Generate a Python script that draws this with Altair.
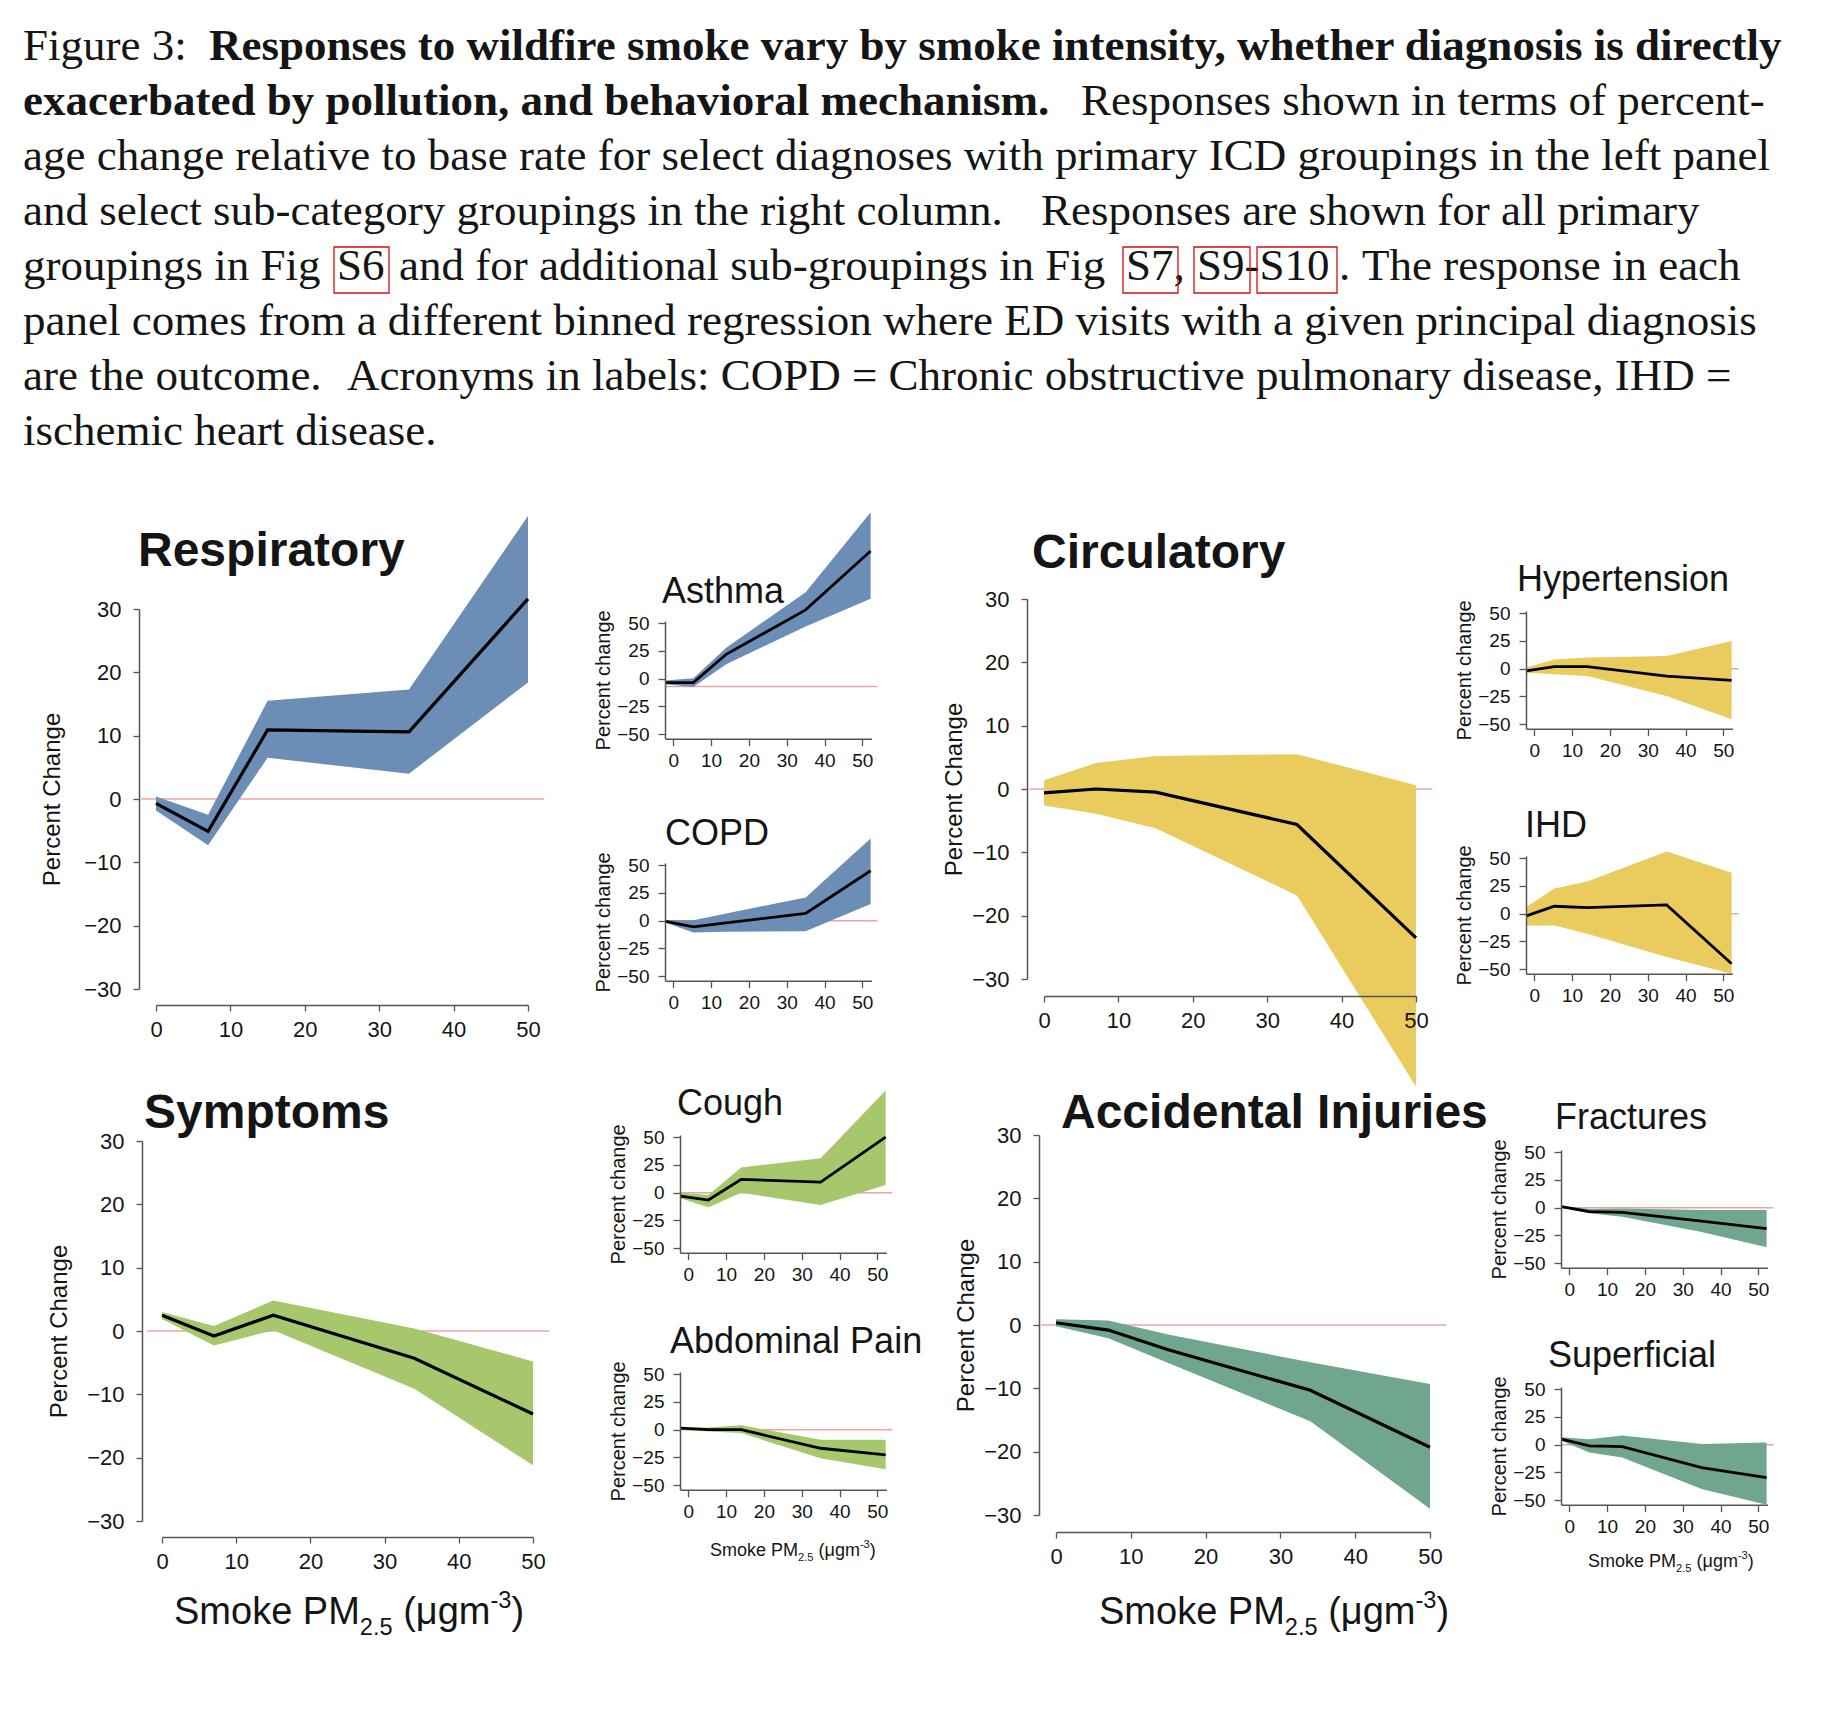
import altair as alt
import pandas as pd

M = 8            # page margin of the html page
W, H = 1805, 1690

# ---------------- data ----------------
smoke_large = [0, 7, 15, 34, 50]
smoke_small = [-2.1, 5.3, 14, 35, 52.2]

resp_est = [-0.7, -5.1, 10.9, 10.6, 31.6]
resp_lo = [-1.8, -7.3, 6.5, 4.0, 18.4]
resp_hi = [0.4, -2.5, 15.5, 17.3, 44.7]

circ_est = [-0.6, 0.0, -0.5, -5.6, -23.5]
circ_lo = [-2.6, -3.9, -6.2, -16.8, -47.0]
circ_hi = [1.4, 4.1, 5.2, 5.5, 0.6]

symp_est = [2.5, -0.8, 2.5, -4.3, -13.1]
symp_lo = [1.9, -2.3, 0.1, -9.1, -21.2]
symp_hi = [3.0, 0.8, 4.8, 0.4, -4.8]

acc_est = [0.35, -0.8, -3.9, -10.3, -19.3]
acc_lo = [-0.2, -2.1, -6.0, -15.2, -29.0]
acc_hi = [0.9, 0.7, -1.5, -5.9, -9.3]

asthma_est = [-3.5, -3.5, 22, 62, 115]
asthma_lo = [-5, -7.5, 13, 47, 72]
asthma_hi = [-1.5, 0.5, 28, 78, 150]

copd_est = [-0.6, -5.5, -2.0, 6.5, 45]
copd_lo = [-1.5, -10.5, -10, -9.5, 15]
copd_hi = [0.6, 0.5, 6.5, 21, 74]

hyp_est = [-2, 1.8, 1.8, -6.6, -10.5]
hyp_lo = [-3.6, -5, -6.6, -24.5, -45.5]
hyp_hi = [1, 8.4, 10, 11.4, 25]

ihd_est = [-2, 6.7, 5.5, 7.9, -45]
ihd_lo = [-10.6, -10.6, -18, -39, -54]
ihd_hi = [6, 22.7, 29, 56, 37]

cough_est = [-3, -6.6, 12, 9.6, 50]
cough_lo = [-5, -13, 0, -11, 7]
cough_hi = [0, -2, 22.8, 31, 92]

abd_est = [1.5, 0, 0, -16.7, -22.7]
abd_lo = [0, -1.5, -3, -25.8, -35.5]
abd_hi = [2, 2, 4, -9, -9]

fract_est = [1, -3.6, -4.2, -12, -18.8]
fract_lo = [0, -5, -8.2, -21.8, -35.5]
fract_hi = [1.8, -1.2, -0.6, -2, -2]

sup_est = [5, -1, -1.8, -20.6, -29.7]
sup_lo = [3.6, -7, -11.5, -40, -54]
sup_hi = [6.7, 5, 8.2, 0.6, 2]

large_xticks = [0, 10, 20, 30, 40, 50]
large_yticks = [-30, -20, -10, 0, 10, 20, 30]
small_xticks = [0, 10, 20, 30, 40, 50]
small_yticks = [-50, -25, 0, 25, 50]

# ---------------- styles ----------------
BLUE = "#6C8EB6"
YELLOW = "#EACB5E"
GREEN = "#A7C76C"
TEAL = "#70A68E"
RED = "#F0A3A3"
AX = "#555555"
TXT = "#151515"
SANS = "Liberation Sans"
SERIF = "Liberation Serif"

ann = pd.DataFrame({"k": [0]})


def txt(s, x, y, size, font=SANS, weight="normal", color=TXT):
    return alt.Chart(ann).mark_text(
        text=s, font=font, fontSize=size, fontWeight=weight,
        align="left", baseline="alphabetic", color=color,
    ).encode(x=alt.value(x - M), y=alt.value(y - M))


def box(x1, x2, y1, y2):
    return alt.Chart(ann).mark_rect(
        fillOpacity=0, stroke="#CC1111", strokeWidth=1.3
    ).encode(x=alt.value(x1 - M), x2=alt.value(x2 - M),
             y=alt.value(y1 - M), y2=alt.value(y2 - M))


def panel(xs, est, lo, hi, color, zero, big, geo, ypad):
    df = pd.DataFrame({"smoke": xs, "est": est, "lo": lo, "hi": hi})
    if big:
        x0, x50, ytop, ybot, yax, xax = geo
        xdom, ydom = [0, 50], [-30, 30]
        xr = [x0 - M, x50 - M]
        yr = [ybot - M, ytop - M]
        xt, yt = large_xticks, large_yticks
        lab, tfs, ytitle = 22, 24, "Percent Change"
        lpx, lpy = 8, 12
        zx = [-2, 52.2]
        sw = 3.2
        tks = 6
    else:
        L, T = geo
        xdom, ydom = [-2.2, 52.4], [-54, 52]
        xr = [L - M, L - M + 54.6 * 3.78]
        yr = [T - M + 106 * 1.11, T - M]
        yax, xax = L, T + 106 * 1.11
        xt, yt = small_xticks, small_yticks
        lab, tfs, ytitle = 19, 20, "Percent change"
        lpx, lpy = 6, 9
        zx = [-2.2, 54]
        sw = 2.8
        tks = 7

    def xs_():
        return alt.Scale(domain=xdom, range=xr, nice=False, zero=False)

    def ys_():
        return alt.Scale(domain=ydom, range=yr, nice=False, zero=False)

    common = dict(grid=False, labelFlush=False, labelOverlap=False,
                  tickSize=tks, tickWidth=1.3, tickColor=AX,
                  domainColor=AX, domainWidth=1.5,
                  labelFont=SANS, labelFontSize=lab, labelColor=TXT, zindex=1)
    xa = alt.Axis(orient="bottom", offset=(xax - M) - H, values=xt,
                  title=None, labelPadding=lpx, **common)
    ya = alt.Axis(orient="left", offset=-(yax - M), values=yt,
                  title=ytitle, titleFont=SANS, titleFontSize=tfs,
                  titleFontWeight="normal", titleColor=TXT,
                  titlePadding=ypad, labelPadding=lpy, **common)
    rule = alt.Chart(pd.DataFrame({"a": [zx[0]], "b": [zx[1]], "ref": [zero]})).mark_rule(
        color=RED, strokeWidth=1.6
    ).encode(
        x=alt.X("a:Q", scale=xs_(), axis=None),
        x2="b:Q",
        y=alt.Y("ref:Q", scale=ys_(), axis=None),
    )
    band = alt.Chart(df).mark_area(color=color, opacity=1).encode(
        x=alt.X("smoke:Q", scale=xs_(), axis=None),
        y=alt.Y("lo:Q", scale=ys_(), axis=None),
        y2="hi:Q",
    )
    line = alt.Chart(df).mark_line(color="black", strokeWidth=sw).encode(
        x=alt.X("smoke:Q", scale=xs_(), axis=xa),
        y=alt.Y("est:Q", scale=ys_(), axis=ya),
    )
    return [rule, band, line]


layers = []

# large panels: (x=0 px, x=50 px, y=30 px, y=-30 px, y-axis px, x-axis px)
layers += panel(smoke_large, resp_est, resp_lo, resp_hi, BLUE, 0, True,
                (156, 528, 609, 989, 139, 1005), 19)
layers += panel(smoke_large, circ_est, circ_lo, circ_hi, YELLOW, 0, True,
                (1044, 1416, 599, 979, 1027, 996), 5)
layers += panel(smoke_large, symp_est, symp_lo, symp_hi, GREEN, 0, True,
                (162, 533, 1141, 1521, 142, 1537), 15)
layers += panel(smoke_large, acc_est, acc_lo, acc_hi, TEAL, 0, True,
                (1056, 1430, 1135, 1515, 1039, 1532), 5)

# small panels: (left px, top px)
layers += panel(smoke_small, asthma_est, asthma_lo, asthma_hi, BLUE, -7, False, (665, 621), 3)
layers += panel(smoke_small, copd_est, copd_lo, copd_hi, BLUE, 0, False, (665, 863), 3)
layers += panel(smoke_small, hyp_est, hyp_lo, hyp_hi, YELLOW, 0, False, (1526, 611), 3)
layers += panel(smoke_small, ihd_est, ihd_lo, ihd_hi, YELLOW, 0, False, (1526, 856), 3)
layers += panel(smoke_small, cough_est, cough_lo, cough_hi, GREEN, 0, False, (680, 1135), 3)
layers += panel(smoke_small, abd_est, abd_lo, abd_hi, GREEN, 0, False, (680, 1372), 3)
layers += panel(smoke_small, fract_est, fract_lo, fract_hi, TEAL, 0, False, (1561, 1150), 3)
layers += panel(smoke_small, sup_est, sup_lo, sup_hi, TEAL, 0, False, (1561, 1387), 3)

# panel titles
layers += [
    txt("Respiratory", 138, 566, 48, weight="bold"),
    txt("Circulatory", 1032, 568, 48, weight="bold"),
    txt("Symptoms", 144, 1128, 48, weight="bold"),
    txt("Accidental Injuries", 1061, 1128, 48, weight="bold"),
    txt("Asthma", 662, 603, 36),
    txt("COPD", 665, 845, 36),
    txt("Hypertension", 1517, 591, 36),
    txt("IHD", 1525, 837, 36),
    txt("Cough", 677, 1115, 36),
    txt("Abdominal Pain", 670, 1353, 36),
    txt("Fractures", 1555, 1129, 36),
    txt("Superficial", 1548, 1367, 36),
]


def pm_title(left, base, size):
    sub = size * 0.62
    out = []
    x = left
    out.append(txt("Smoke PM", x, base, size)); x += 4.890 * size
    out.append(txt("2.5", x, base + 0.30 * size, sub)); x += 1.390 * sub + 0.278 * size
    out.append(txt("(\u03bcgm", x, base, size)); x += 2.298 * size
    out.append(txt("-3", x, base - 0.42 * size, sub)); x += 0.889 * sub
    out.append(txt(")", x, base, size))
    return out


layers += pm_title(174, 1624, 38)
layers += pm_title(1099, 1624, 38)
layers += pm_title(710, 1556, 18)
layers += pm_title(1588, 1567, 18)

# caption
CS = 45
layers += [
    txt("Figure 3:", 23, 60, CS, font=SERIF),
    txt("Responses to wildfire smoke vary by smoke intensity, whether diagnosis is directly",
        209, 60, CS, font=SERIF, weight="bold"),
    txt("exacerbated by pollution, and behavioral mechanism.", 23, 115, CS, font=SERIF, weight="bold"),
    txt("Responses shown in terms of percent-", 1081, 115, CS, font=SERIF),
    txt("age change relative to base rate for select diagnoses with primary ICD groupings in the left panel",
        23, 170, CS, font=SERIF),
    txt("and select sub-category groupings in the right column.", 23, 225, CS, font=SERIF),
    txt("Responses are shown for all primary", 1041, 225, CS, font=SERIF),
    txt("groupings in Fig", 23, 280, CS, font=SERIF),
    txt("S6", 337, 280, CS, font=SERIF),
    txt("and for additional sub-groupings in Fig", 399, 280, CS, font=SERIF),
    txt("S7,", 1126, 280, CS, font=SERIF),
    txt("S9-S10", 1197, 280, CS, font=SERIF),
    txt(".", 1339, 280, CS, font=SERIF),
    txt("The response in each", 1362, 280, CS, font=SERIF),
    txt("panel comes from a different binned regression where ED visits with a given principal diagnosis",
        23, 335, CS, font=SERIF),
    txt("are the outcome.", 23, 390, CS, font=SERIF),
    txt("Acronyms in labels: COPD = Chronic obstructive pulmonary disease, IHD =",
        347, 390, CS, font=SERIF),
    txt("ischemic heart disease.", 23, 445, CS, font=SERIF),
    box(334, 389, 247, 293),
    box(1123, 1178, 247, 293),
    box(1194, 1250, 247, 293),
    box(1257, 1337, 247, 293),
]

chart = alt.layer(*layers).resolve_scale(
    x="independent", y="independent"
).properties(
    width=W, height=H,
    autosize=alt.AutoSizeParams(type="none"),
    padding=0,
    background="white",
).configure_view(stroke=None)

chart.save("out.html", embed_options={"renderer": "svg", "actions": False})
